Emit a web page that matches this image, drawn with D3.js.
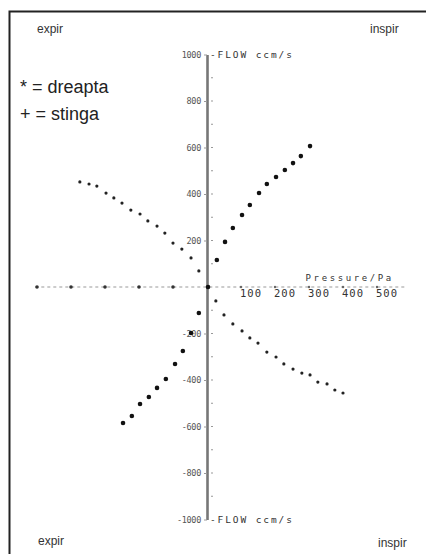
<!DOCTYPE html>
<html><head><meta charset="utf-8">
<script src="https://cdn.jsdelivr.net/npm/d3@7"></script>
<style>
html,body{margin:0;padding:0;background:#fff;}
svg{display:block;}
</style></head>
<body>
<script>
// ---- data (Pressure Pa, Flow ccm/s) ----
const dreaptaP = [303,276,253,229,203,176,153,126,103,76,53,29,3,-24,-47,-71,-94,-121,-147,-171,-197,-221,-247];
const dreaptaF = [606,563,533,503,473,443,404,353,310,254,194,116,0,-112,-198,-275,-331,-396,-434,-473,-503,-555,-585];
const stingaP = [-374,-347,-324,-297,-274,-250,-224,-197,-174,-147,-124,-100,-74,-47,-24,
                 26,50,76,103,126,150,176,203,226,253,279,303,326,353,376,400];
const stingaF = [452,443,434,404,383,361,331,314,284,262,232,189,163,125,69,
                 -60,-120,-159,-189,-219,-241,-280,-301,-331,-353,-370,-378,-409,-417,-443,-456];
const yTicks = [1000,800,600,400,200,-200,-400,-600,-800,-1000];
const yMinor = d3.range(-1000,1001,100);
const xTickLabels = [100,200,300,400,500];
const xTicks = [-500,-400,-300,-200,-100,100,200,300,400,500];

const W=426,H=554;
const svg=d3.select("body").append("svg").attr("width",W).attr("height",H);
svg.append("rect").attr("width",W).attr("height",H).attr("fill","#fff");

// frame (left + top)
svg.append("path").attr("d",`M9.5,${H} V11.5 H${W}`).attr("fill","none").attr("stroke","#222").attr("stroke-width",2);

const x=d3.scaleLinear().domain([-500,500]).range([37,377]);
const y=d3.scaleLinear().domain([-1000,1000]).range([519.5,54.5]);

const mono="'DejaVu Sans Mono', monospace";
const sans="'Liberation Sans', Arial, sans-serif";

// x axis dashed line
svg.append("line").attr("x1",x(-505)).attr("x2",x(585)).attr("y1",y(0)).attr("y2",y(0))
  .attr("stroke","#999").attr("stroke-width",1.2).attr("stroke-dasharray","3,3");
svg.selectAll(".xt").data(xTicks).join("circle").attr("cx",d=>x(d)).attr("cy",y(0))
  .attr("r",d=>d<0?1.8:1.2).attr("fill",d=>d<0?"#333":"#666");

// x tick labels
svg.selectAll(".xl").data(xTickLabels).join("text").attr("x",d=>x(d)-1).attr("y",y(0)+10)
  .attr("font-family",mono).attr("font-size",10.5).attr("letter-spacing",1).attr("fill","#333").text(d=>d);
svg.append("text").attr("x",x(290)).attr("y",y(0)-6).attr("font-family",mono).attr("font-size",9)
  .attr("letter-spacing",2.6).attr("fill","#333").text("Pressure/Pa");

// y axis via d3
const yAxis=d3.axisLeft(y).tickValues(yTicks).tickSize(3).tickSizeOuter(0).tickPadding(3)
  .tickFormat(d=>String(d).replace("\u2212","-"));
const gy=svg.append("g").attr("transform",`translate(${x(0)},0)`).call(yAxis);
gy.select(".domain").attr("stroke","#777").attr("stroke-width",2.6);
gy.selectAll(".tick line").attr("stroke","#999");
gy.selectAll(".tick text").attr("font-family",mono).attr("font-size",8.5).attr("letter-spacing",-0.3).attr("fill","#555");
// minor ticks right of axis
svg.selectAll(".ym").data(yMinor.filter(d=>Math.abs(d)<1000 && d!==0)).join("line")
  .attr("x1",x(0)+4).attr("x2",x(0)+6).attr("y1",d=>y(d)).attr("y2",d=>y(d))
  .attr("stroke","#999").attr("stroke-width",1);

// FLOW labels
[1000,-1000].forEach(v=>{
  svg.append("text").attr("x",x(0)+3).attr("y",y(v)+3).attr("font-family",mono).attr("font-size",9.5)
    .attr("letter-spacing",1.9).attr("fill","#333").text("-FLOW ccm/s");
});

// data points
const dre=dreaptaP.map((p,i)=>({p,f:dreaptaF[i]}));
const sti=stingaP.map((p,i)=>({p,f:stingaF[i]}));
svg.selectAll(".d").data(dre).join("circle").attr("cx",d=>x(d.p)).attr("cy",d=>y(d.f))
  .attr("r",2.3).attr("fill","#111");
svg.selectAll(".s").data(sti).join("circle").attr("cx",d=>x(d.p)).attr("cy",d=>y(d.f))
  .attr("r",1.6).attr("fill","#222");

// corner labels
const lab=(t,xx,yy)=>svg.append("text").attr("x",xx).attr("y",yy).attr("font-family",sans)
  .attr("font-size",12).attr("fill","#333").text(t);
lab("expir",37,33); lab("inspir",370,33); lab("expir",38,545); lab("inspir",378,547);

// legend
svg.append("text").attr("x",20).attr("y",93).attr("font-family",sans).attr("font-size",18).attr("fill","#222").text("* = dreapta");
svg.append("text").attr("x",20).attr("y",120).attr("font-family",sans).attr("font-size",18).attr("fill","#222").text("+ = stinga");
</script>
</body></html>
